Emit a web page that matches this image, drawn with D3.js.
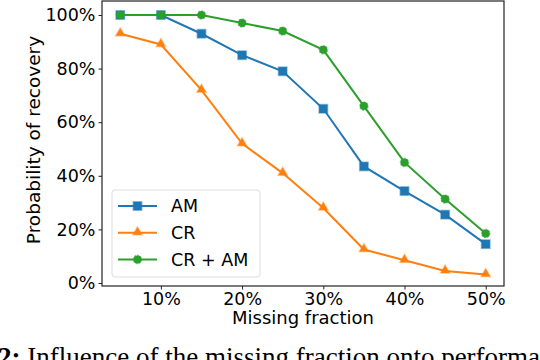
<!DOCTYPE html>
<html>
<head>
<meta charset="utf-8">
<script src="https://cdn.jsdelivr.net/npm/d3@7"></script>
<style>
  body { margin: 0; background: #fff; }
  svg { display: block; }
  .tick text { font-family: "DejaVu Sans", sans-serif; font-size: 17.5px; fill: #000; }
  .tick line { stroke: #222; }
  .domain { display: none; }
</style>
</head>
<body>
<div class="graph"></div>
<script>
const fractions = [0.05, 0.10, 0.15, 0.20, 0.25, 0.30, 0.35, 0.40, 0.45, 0.50];
const amValues = [1.00, 1.00, 0.93, 0.85, 0.79, 0.65, 0.435, 0.343, 0.255, 0.145];
const crValues = [0.93, 0.89, 0.72, 0.52, 0.41, 0.28, 0.125, 0.085, 0.045, 0.032];
const crAmValues = [1.00, 1.00, 1.00, 0.97, 0.94, 0.87, 0.66, 0.45, 0.313, 0.185];
const seriesNames = ["AM", "CR", "CR + AM"];
const seriesColors = ["#1f77b4", "#ff7f0e", "#2ca02c"];
const xTicks = [0.1, 0.2, 0.3, 0.4, 0.5];
const yTicks = [0, 0.2, 0.4, 0.6, 0.8, 1.0];

const width = 540;
const height = 360;
const plot = { left: 102, right: 504, top: 1, bottom: 286 };

const canvas = d3.select(".graph")
  .append("svg")
  .attr("width", width)
  .attr("height", height);

const x = d3.scaleLinear()
  .domain([0.0275, 0.5225])
  .range([plot.left, plot.right]);

const y = d3.scaleLinear()
  .domain([-0.0112, 1.0522])
  .range([plot.bottom, plot.top]);

const pct = d => d3.format(".0%")(d);

canvas.append("g")
  .attr("transform", `translate(0, ${plot.bottom})`)
  .call(d3.axisBottom(x).tickValues(xTicks).tickFormat(pct).tickSize(3.5).tickPadding(3));

canvas.append("g")
  .attr("transform", `translate(${plot.left}, 0)`)
  .call(d3.axisLeft(y).tickValues(yTicks).tickFormat(pct).tickSize(3.5).tickPadding(3));

// axis labels
canvas.append("text")
  .attr("x", (plot.left + plot.right) / 2)
  .attr("y", 324)
  .attr("text-anchor", "middle")
  .style("font-family", "DejaVu Sans, sans-serif")
  .style("font-size", "18px")
  .text("Missing fraction");

canvas.append("text")
  .attr("transform", "rotate(-90)")
  .attr("x", -140)
  .attr("y", 40)
  .attr("text-anchor", "middle")
  .style("font-family", "DejaVu Sans, sans-serif")
  .style("font-size", "18.5px")
  .text("Probability of recovery");

const series = [amValues, crValues, crAmValues];
const line = d3.line()
  .x((d, i) => x(fractions[i]))
  .y(d => y(d));

function drawMarker(g, kind, color, cx, cy) {
  if (kind === 0) {
    g.append("rect")
      .attr("x", cx - 4.2).attr("y", cy - 4.2)
      .attr("width", 8.4).attr("height", 8.4)
      .attr("fill", color)
      .attr("stroke", color).attr("stroke-opacity", 0.45).attr("stroke-width", 1.6);
  } else if (kind === 1) {
    const s = d3.symbol().type(d3.symbolTriangle).size(34);
    g.append("path")
      .attr("d", s())
      .attr("transform", `translate(${cx}, ${cy - 0.5})`)
      .attr("fill", color)
      .attr("stroke", color).attr("stroke-opacity", 0.45).attr("stroke-width", 1.6);
  } else {
    g.append("circle")
      .attr("cx", cx).attr("cy", cy).attr("r", 4)
      .attr("fill", color)
      .attr("stroke", color).attr("stroke-opacity", 0.5).attr("stroke-width", 1.6)
      .attr("stroke-dasharray", "2,1");
  }
}

series.forEach((vals, k) => {
  const g = canvas.append("g");
  g.append("path")
    .datum(vals)
    .attr("d", line)
    .attr("fill", "none")
    .attr("stroke", seriesColors[k])
    .attr("stroke-width", 2);
  vals.forEach((v, i) => drawMarker(g, k, seriesColors[k], x(fractions[i]), y(v)));
});

// frame
canvas.append("rect")
  .attr("x", plot.left)
  .attr("y", plot.top)
  .attr("width", plot.right - plot.left)
  .attr("height", plot.bottom - plot.top)
  .attr("fill", "none")
  .attr("stroke", "#222")
  .attr("stroke-width", 1.2);

// legend
const legend = canvas.append("g");
legend.append("rect")
  .attr("x", 112).attr("y", 190)
  .attr("width", 148).attr("height", 87)
  .attr("rx", 3)
  .attr("fill", "#fff").attr("fill-opacity", 0.8)
  .attr("stroke", "#ddd");

seriesNames.forEach((name, k) => {
  const ly = 206 + k * 26.7;
  legend.append("line")
    .attr("x1", 118).attr("x2", 157)
    .attr("y1", ly).attr("y2", ly)
    .attr("stroke", seriesColors[k])
    .attr("stroke-width", 2);
  drawMarker(legend, k, seriesColors[k], 137.5, ly);
  legend.append("text")
    .attr("x", 171)
    .attr("y", ly + 6.3)
    .style("font-family", "DejaVu Sans, sans-serif")
    .style("font-size", "17.5px")
    .text(name);
});

// caption (cut off by the page edge)
const cap = canvas.append("text")
  .attr("x", -2)
  .attr("y", 366)
  .style("font-family", "Liberation Serif, serif")
  .style("font-size", "27px");
cap.append("tspan").style("font-weight", "bold").text("2:");
cap.append("tspan").text(" Influence of the missing fraction onto performance");
</script>
</body>
</html>
